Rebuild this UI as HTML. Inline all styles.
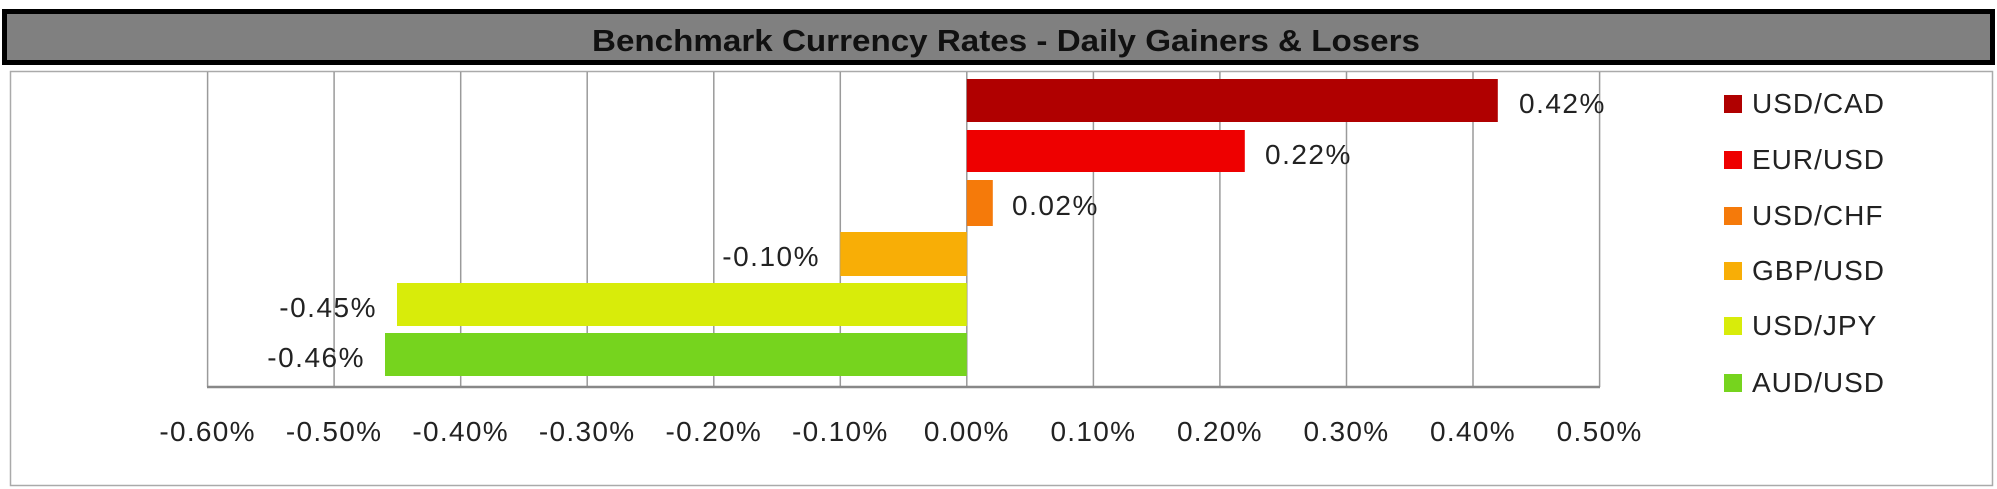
<!DOCTYPE html>
<html><head><meta charset="utf-8"><style>html,body{margin:0;padding:0;background:#fff}svg{display:block}</style></head>
<body>
<svg width="1997" height="489" viewBox="0 0 1997 489" xmlns="http://www.w3.org/2000/svg" font-family="Liberation Sans, sans-serif">
<rect x="0" y="0" width="1997" height="489" fill="#fff"/>
<rect x="4.5" y="11.5" width="1988" height="51" fill="#808080" stroke="#000" stroke-width="5"/>
<text x="1006" y="51" font-size="31" font-weight="bold" text-anchor="middle" fill="#111" textLength="828" lengthAdjust="spacingAndGlyphs">Benchmark Currency Rates - Daily Gainers &amp; Losers</text>
<rect x="10.5" y="71.5" width="1982" height="414" fill="#fff" stroke="#aaa" stroke-width="1.5"/>
<g stroke="#9a9a9a" stroke-width="1.5">
<line x1="207.6" y1="72" x2="207.6" y2="387"/><line x1="334.1" y1="72" x2="334.1" y2="387"/><line x1="460.7" y1="72" x2="460.7" y2="387"/><line x1="587.2" y1="72" x2="587.2" y2="387"/><line x1="713.8" y1="72" x2="713.8" y2="387"/><line x1="840.3" y1="72" x2="840.3" y2="387"/><line x1="966.8" y1="72" x2="966.8" y2="387"/><line x1="1093.4" y1="72" x2="1093.4" y2="387"/><line x1="1219.9" y1="72" x2="1219.9" y2="387"/><line x1="1346.5" y1="72" x2="1346.5" y2="387"/><line x1="1473" y1="72" x2="1473" y2="387"/><line x1="1599.6" y1="72" x2="1599.6" y2="387"/>
</g>
<line x1="207" y1="387" x2="1600" y2="387" stroke="#888" stroke-width="2.5"/>
<rect x="966.8" y="79" width="531" height="43" fill="#b00000"/>
<rect x="966.8" y="130" width="278" height="42" fill="#ee0000"/>
<rect x="966.8" y="180" width="26" height="46" fill="#f57a0a"/>
<rect x="840.3" y="232" width="126.5" height="44" fill="#f8ae06"/>
<rect x="397" y="283" width="569.8" height="43" fill="#d8ec0a"/>
<rect x="385" y="333" width="581.8" height="43" fill="#76d41e"/>
<g font-size="28" fill="#222" letter-spacing="1.5">
<text x="1519" y="113">0.42%</text>
<text x="1265" y="164">0.22%</text>
<text x="1012" y="215">0.02%</text>
<text x="820" y="266" text-anchor="end">-0.10%</text>
<text x="377" y="317" text-anchor="end">-0.45%</text>
<text x="365" y="367" text-anchor="end">-0.46%</text>
</g>
<g font-size="28" fill="#222" text-anchor="middle" letter-spacing="1.3">
<text x="207.6" y="441">-0.60%</text><text x="334.1" y="441">-0.50%</text><text x="460.7" y="441">-0.40%</text><text x="587.2" y="441">-0.30%</text><text x="713.8" y="441">-0.20%</text><text x="840.3" y="441">-0.10%</text><text x="966.8" y="441">0.00%</text><text x="1093.4" y="441">0.10%</text><text x="1219.9" y="441">0.20%</text><text x="1346.5" y="441">0.30%</text><text x="1473" y="441">0.40%</text><text x="1599.6" y="441">0.50%</text>
</g>
<g font-size="28" fill="#222" letter-spacing="1">
<rect x="1724" y="95" width="18" height="18" fill="#b00000"/><text x="1752" y="113">USD/CAD</text>
<rect x="1724" y="151" width="18" height="18" fill="#ee0000"/><text x="1752" y="169">EUR/USD</text>
<rect x="1724" y="207" width="18" height="18" fill="#f57a0a"/><text x="1752" y="225">USD/CHF</text>
<rect x="1724" y="262" width="18" height="18" fill="#f8ae06"/><text x="1752" y="280">GBP/USD</text>
<rect x="1724" y="317" width="18" height="18" fill="#d8ec0a"/><text x="1752" y="335">USD/JPY</text>
<rect x="1724" y="374" width="18" height="18" fill="#76d41e"/><text x="1752" y="392">AUD/USD</text>
</g>
</svg>
</body></html>
